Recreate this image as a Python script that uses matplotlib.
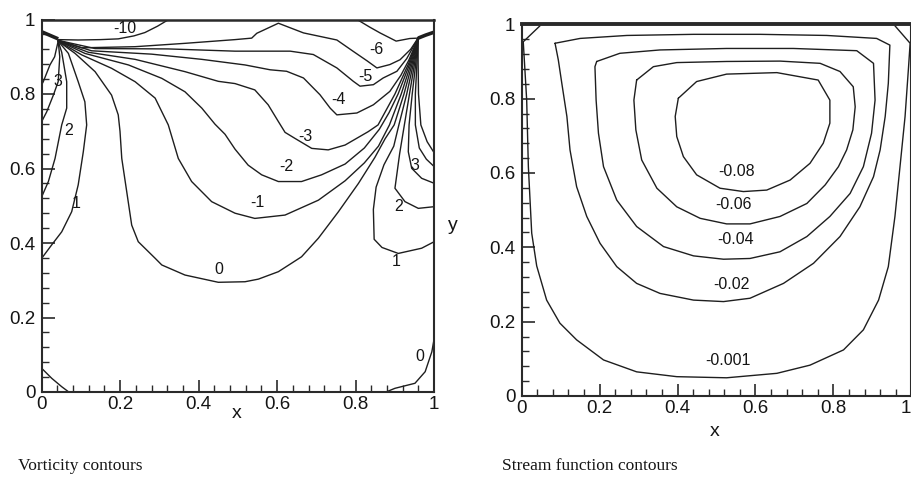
import matplotlib
matplotlib.use("Agg")
import matplotlib.pyplot as plt
from matplotlib.ticker import MultipleLocator, FixedLocator, FixedFormatter

plt.rcParams['font.family'] = ['Liberation Sans', 'DejaVu Sans']

# ---------------- axis ticks ----------------
tick_values = [0.0, 0.2, 0.4, 0.6, 0.8, 1.0]
tick_labels = ["0", "0.2", "0.4", "0.6", "0.8", "1"]
minor_step = 0.04

# ---------------- vorticity contours (x, y) ----------------
vort_lid_left = [(0.0, 0.967), (0.042, 0.948)]
vort_lid_right = [(0.959, 0.950), (0.978, 0.958), (1.0, 0.966)]

vort_m10_a = [(0.042, 0.946), (0.093, 0.945), (0.150, 0.946), (0.195, 0.948), (0.235, 0.956),
              (0.263, 0.965), (0.295, 0.982), (0.322, 0.999)]
vort_m10_b = [(0.805, 0.999), (0.835, 0.980), (0.862, 0.964), (0.903, 0.942), (0.938, 0.949),
              (0.959, 0.950)]
vort_m6 = [(0.042, 0.944), (0.102, 0.924), (0.238, 0.927), (0.365, 0.936), (0.4925, 0.946),
           (0.535, 0.950), (0.548, 0.963), (0.603, 0.990), (0.667, 0.964), (0.752, 0.945),
           (0.793, 0.915), (0.829, 0.889), (0.854, 0.870), (0.887, 0.879), (0.913, 0.892),
           (0.940, 0.920), (0.959, 0.950)]
vort_m5 = [(0.042, 0.944), (0.136, 0.922), (0.3225, 0.921), (0.4925, 0.915), (0.582, 0.915),
           (0.633, 0.915), (0.692, 0.906), (0.752, 0.870), (0.794, 0.834), (0.811, 0.821),
           (0.845, 0.825), (0.870, 0.843), (0.905, 0.861), (0.930, 0.895), (0.959, 0.950)]
vort_m4 = [(0.042, 0.944), (0.127, 0.916), (0.280, 0.907), (0.408, 0.893), (0.518, 0.878),
           (0.582, 0.865), (0.624, 0.861), (0.667, 0.843), (0.709, 0.798), (0.735, 0.762),
           (0.752, 0.744), (0.803, 0.749), (0.845, 0.771), (0.887, 0.807), (0.915, 0.850),
           (0.935, 0.890), (0.959, 0.950)]
vort_m3 = [(0.042, 0.943), (0.119, 0.912), (0.238, 0.893), (0.365, 0.860), (0.450, 0.834),
           (0.4925, 0.828), (0.543, 0.811), (0.577, 0.771), (0.603, 0.726), (0.620, 0.697),
           (0.645, 0.681), (0.688, 0.654), (0.730, 0.650), (0.773, 0.663), (0.832, 0.699),
           (0.857, 0.717), (0.900, 0.800), (0.935, 0.882), (0.959, 0.950)]
vort_m2 = [(0.042, 0.943), (0.110, 0.909), (0.221, 0.878), (0.306, 0.842), (0.365, 0.806),
           (0.408, 0.762), (0.4415, 0.719), (0.467, 0.692), (0.4925, 0.652), (0.526, 0.609),
           (0.5605, 0.583), (0.603, 0.565), (0.662, 0.565), (0.713, 0.583), (0.773, 0.612),
           (0.822, 0.655), (0.860, 0.705), (0.885, 0.750), (0.908, 0.800), (0.938, 0.882),
           (0.959, 0.950)]
vort_m1 = [(0.042, 0.942), (0.102, 0.905), (0.178, 0.869), (0.238, 0.833), (0.289, 0.789),
           (0.3225, 0.717), (0.348, 0.627), (0.382, 0.565), (0.433, 0.511), (0.4925, 0.480),
           (0.543, 0.466), (0.620, 0.475), (0.705, 0.515), (0.773, 0.567), (0.822, 0.615),
           (0.858, 0.660), (0.886, 0.717), (0.916, 0.800), (0.941, 0.882), (0.959, 0.950)]
vort_0 = [(0.042, 0.942), (0.085, 0.909), (0.136, 0.860), (0.178, 0.797), (0.195, 0.744),
          (0.1995, 0.700), (0.204, 0.627), (0.2166, 0.538), (0.2293, 0.448), (0.246, 0.4035),
          (0.289, 0.359), (0.306, 0.341), (0.365, 0.314), (0.450, 0.2945), (0.518, 0.296),
          (0.552, 0.303), (0.603, 0.323), (0.637, 0.346), (0.662, 0.363), (0.705, 0.413),
          (0.756, 0.484), (0.807, 0.560), (0.849, 0.630), (0.875, 0.680), (0.898, 0.717),
          (0.923, 0.800), (0.944, 0.882), (0.959, 0.950)]
vort_1_left = [(0.042, 0.942), (0.068, 0.909), (0.093, 0.833), (0.110, 0.779), (0.1146, 0.717),
               (0.106, 0.645), (0.093, 0.556), (0.0764, 0.484), (0.051, 0.430), (0.0255, 0.395),
               (0.0, 0.359)]
vort_2_left = [(0.042, 0.942), (0.051, 0.912), (0.0637, 0.833), (0.0637, 0.762), (0.051, 0.717),
               (0.034, 0.627), (0.017, 0.565), (0.0, 0.524)]
vort_3_left = [(0.042, 0.942), (0.046, 0.900), (0.042, 0.833), (0.0297, 0.797), (0.0127, 0.752),
               (0.0, 0.726)]
vort_4_left = [(0.042, 0.942), (0.033, 0.900), (0.021, 0.878), (0.004, 0.833), (0.0, 0.825)]
vort_1_right = [(0.959, 0.950), (0.947, 0.882), (0.930, 0.800), (0.910, 0.717), (0.897, 0.660),
                (0.872, 0.610), (0.852, 0.550), (0.845, 0.490), (0.847, 0.410), (0.867, 0.388),
                (0.9085, 0.372), (0.968, 0.386), (1.0, 0.4035)]
vort_2_right = [(0.959, 0.950), (0.950, 0.882), (0.937, 0.800), (0.924, 0.717), (0.912, 0.640),
                (0.900, 0.547), (0.9256, 0.511), (0.9595, 0.493), (1.0, 0.4975)]
vort_3_right = [(0.959, 0.950), (0.953, 0.882), (0.944, 0.800), (0.936, 0.717), (0.934, 0.645),
                (0.9427, 0.6005), (0.968, 0.5737), (1.0, 0.5603)]
vort_4_right = [(0.959, 0.950), (0.956, 0.882), (0.952, 0.800), (0.952, 0.717), (0.962, 0.655),
                (0.980, 0.625), (1.0, 0.605)]
vort_5_right = [(0.959, 0.950), (0.959, 0.882), (0.960, 0.800), (0.966, 0.717), (0.982, 0.672),
                (1.0, 0.642)]
vort_0_bl = [(0.0, 0.0636), (0.0255, 0.0368), (0.051, 0.0142), (0.068, 0.0008)]
vort_0_br = [(0.879, 0.0008), (0.900, 0.0099), (0.951, 0.0234), (0.977, 0.0545), (0.994, 0.108),
             (1.0, 0.144)]

vort_label_text = ["-10", "-6", "-5", "-4", "-3", "-2", "-1", "0", "1", "2", "3",
                   "3", "2", "1", "0"]
vort_label_x = [0.212, 0.853, 0.824, 0.756, 0.671, 0.624, 0.550, 0.450, 0.089, 0.068, 0.042,
                0.951, 0.910, 0.904, 0.964]
vort_label_y = [0.976, 0.919, 0.848, 0.785, 0.685, 0.605, 0.509, 0.330, 0.505, 0.703, 0.833,
                0.609, 0.497, 0.350, 0.095]

# ---------------- stream function contours (x, y) ----------------
psi_m0001 = [(0.047, 0.996), (0.004, 0.953), (0.0128, 0.796), (0.0171, 0.617), (0.0257, 0.438),
             (0.0385, 0.350), (0.064, 0.258), (0.098, 0.196), (0.141, 0.151), (0.210, 0.097),
             (0.295, 0.065), (0.398, 0.052), (0.526, 0.049), (0.655, 0.061), (0.740, 0.083),
             (0.826, 0.124), (0.877, 0.178), (0.916, 0.258), (0.941, 0.348), (0.958, 0.483),
             (0.971, 0.617), (0.984, 0.752), (0.993, 0.886), (0.997, 0.949), (0.958, 0.996)]
psi_m002 = [(0.0856, 0.949), (0.150, 0.962), (0.270, 0.970), (0.441, 0.973), (0.612, 0.973),
            (0.783, 0.970), (0.911, 0.962), (0.945, 0.944), (0.941, 0.841), (0.933, 0.752),
            (0.920, 0.662), (0.903, 0.590), (0.868, 0.509), (0.817, 0.429), (0.749, 0.357),
            (0.672, 0.303), (0.586, 0.263), (0.518, 0.254), (0.441, 0.258), (0.355, 0.276),
            (0.295, 0.303), (0.244, 0.348), (0.201, 0.411), (0.167, 0.483), (0.141, 0.563),
            (0.124, 0.662), (0.116, 0.752), (0.103, 0.841), (0.094, 0.904), (0.0856, 0.949)]
psi_m004 = [(0.1925, 0.900), (0.252, 0.922), (0.355, 0.931), (0.526, 0.935), (0.697, 0.935),
            (0.860, 0.929), (0.903, 0.895), (0.907, 0.796), (0.898, 0.707), (0.877, 0.617),
            (0.843, 0.545), (0.791, 0.483), (0.732, 0.429), (0.663, 0.388), (0.586, 0.370),
            (0.518, 0.368), (0.441, 0.377), (0.364, 0.402), (0.295, 0.456), (0.244, 0.527),
            (0.210, 0.617), (0.197, 0.707), (0.191, 0.796), (0.188, 0.886), (0.1925, 0.900)]
psi_m006 = [(0.295, 0.850), (0.338, 0.886), (0.398, 0.897), (0.526, 0.900), (0.663, 0.901),
            (0.766, 0.895), (0.817, 0.873), (0.851, 0.832), (0.856, 0.778), (0.850, 0.716),
            (0.834, 0.662), (0.813, 0.617), (0.779, 0.568), (0.732, 0.518), (0.663, 0.483),
            (0.586, 0.463), (0.526, 0.463), (0.458, 0.478), (0.398, 0.509), (0.347, 0.559),
            (0.308, 0.635), (0.293, 0.716), (0.288, 0.796), (0.295, 0.850)]
psi_m008 = [(0.402, 0.801), (0.449, 0.846), (0.526, 0.866), (0.655, 0.870), (0.761, 0.850),
            (0.791, 0.796), (0.791, 0.734), (0.774, 0.680), (0.740, 0.626), (0.689, 0.581),
            (0.629, 0.554), (0.569, 0.550), (0.509, 0.559), (0.449, 0.595), (0.415, 0.644),
            (0.398, 0.698), (0.394, 0.752), (0.402, 0.801)]

psi_label_text = ["-0.08", "-0.06", "-0.04", "-0.02", "-0.001"]
psi_label_x = [0.552, 0.543, 0.548, 0.539, 0.530]
psi_label_y = [0.604, 0.514, 0.4215, 0.301, 0.095]

# ---------------- figure ----------------
W, H = 912, 488
fig = plt.figure(figsize=(W / 100, H / 100), dpi=100)
fig.patch.set_facecolor('white')

LINE = '#1e1e1e'
TXT = '#151515'


def style_axes(ax, top_lw):
    ax.set_xlim(0, 1)
    ax.set_ylim(0, 1)
    for side in ('left', 'bottom', 'right'):
        ax.spines[side].set_linewidth(1.5)
        ax.spines[side].set_color('#2a2a2a')
    ax.spines['top'].set_linewidth(top_lw)
    ax.spines['top'].set_color('#2a2a2a')
    ax.xaxis.set_major_locator(FixedLocator(tick_values))
    ax.xaxis.set_major_formatter(FixedFormatter(tick_labels))
    ax.yaxis.set_major_locator(FixedLocator(tick_values))
    ax.yaxis.set_major_formatter(FixedFormatter(tick_labels))
    ax.xaxis.set_minor_locator(MultipleLocator(minor_step))
    ax.yaxis.set_minor_locator(MultipleLocator(minor_step))
    ax.tick_params(which='both', direction='in', top=False, right=False, colors='#2a2a2a',
                   labelcolor=TXT, labelsize=13.5)
    ax.tick_params(which='major', length=9, width=1.2)
    ax.tick_params(which='minor', length=5, width=1.0)
    ax.tick_params(axis='x', which='major', pad=3)
    ax.tick_params(axis='y', which='major', pad=4.5)


# left: vorticity
axL = fig.add_axes([41.7 / W, 1 - 392.0 / H, 392.5 / W, 372.5 / H])
style_axes(axL, 1.8)
vort_thin = [vort_m10_a, vort_m10_b, vort_m6, vort_m5, vort_m4, vort_m3, vort_m2, vort_m1,
             vort_0, vort_1_left, vort_2_left, vort_3_left, vort_4_left,
             vort_1_right, vort_2_right, vort_3_right, vort_4_right, vort_5_right,
             vort_0_bl, vort_0_br]
for pts in vort_thin:
    xs, ys = zip(*pts)
    axL.plot(xs, ys, color=LINE, lw=1.0, solid_joinstyle='round', solid_capstyle='round')
for pts in (vort_lid_left, vort_lid_right):
    xs, ys = zip(*pts)
    axL.plot(xs, ys, color=LINE, lw=2.6, solid_capstyle='butt')
for t, x, y in zip(vort_label_text, vort_label_x, vort_label_y):
    axL.text(x, y, t, ha='center', va='center', fontsize=11.5, color=TXT)

# right: stream function
axR = fig.add_axes([521.7 / W, 1 - 396.0 / H, 389.6 / W, 371.7 / H])
style_axes(axR, 2.8)
for pts in (psi_m0001, psi_m002, psi_m004, psi_m006, psi_m008):
    xs, ys = zip(*pts)
    axR.plot(xs, ys, color=LINE, lw=1.0, solid_joinstyle='round', solid_capstyle='round')
for t, x, y in zip(psi_label_text, psi_label_x, psi_label_y):
    axR.text(x, y, t, ha='center', va='center', fontsize=11.5, color=TXT)
# keep the last x tick label of the right panel inside the figure
axR.get_xticklabels()[-1].set_horizontalalignment('right')

# axis letters
fig.text(237 / W, 1 - 414 / H, 'x', ha='center', va='center', fontsize=14, color=TXT)
fig.text(715 / W, 1 - 432 / H, 'x', ha='center', va='center', fontsize=14, color=TXT)
fig.text(453 / W, 1 - 226 / H, 'y', ha='center', va='center', fontsize=14, color=TXT)

# captions
fig.text(18 / W, 1 - 466 / H, 'Vorticity contours', ha='left', va='center', fontsize=12.5,
         family=['Liberation Serif', 'DejaVu Serif'], color=TXT)
fig.text(502 / W, 1 - 466 / H, 'Stream function contours', ha='left', va='center',
         fontsize=12.5, family=['Liberation Serif', 'DejaVu Serif'], color=TXT)

fig.savefig('out.png', dpi=100, facecolor='white')
